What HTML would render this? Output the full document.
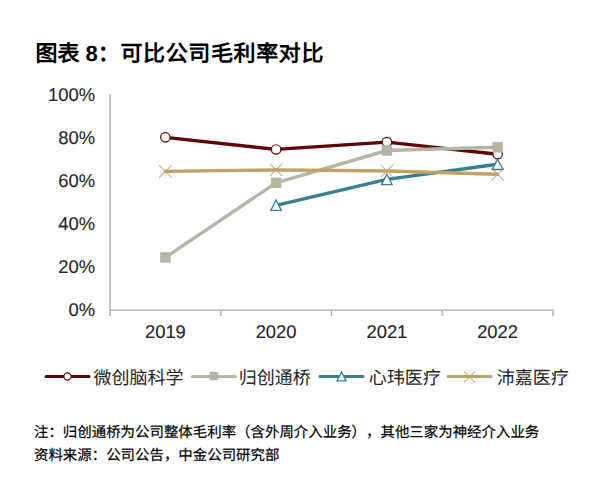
<!DOCTYPE html>
<html lang="zh-CN"><head><meta charset="utf-8"><style>
html,body{margin:0;padding:0;background:#fff;width:600px;height:479px;overflow:hidden}
svg{display:block;position:absolute;left:0;top:0}
text{font-family:"Liberation Sans",sans-serif;fill:#262626;text-spacing-trim:space-all;text-rendering:geometricPrecision;font-kerning:none}
.ax{font-size:18.4px;fill:#262626;stroke:#262626;stroke-width:0.12px}
.lg{font-size:18px;fill:#262626}
.ti{font-size:22px;font-weight:bold;fill:#000}
.nt{font-size:14.45px;fill:#000;stroke:#000;stroke-width:0.2px}
</style></head><body>
<svg width="600" height="479" viewBox="0 0 600 479">
<path d="M110,94 V316 M110,310.2 H553 V316.3" fill="none" stroke="#a6a6a6" stroke-width="1.3"/>
<path d="M220.8,310.2 V316" stroke="#a6a6a6" stroke-width="1.3"/>
<path d="M331.5,310.2 V316" stroke="#a6a6a6" stroke-width="1.3"/>
<path d="M442.2,310.2 V316" stroke="#a6a6a6" stroke-width="1.3"/>
<text x="95" y="316.0" text-anchor="end" class="ax">0%</text>
<text x="95" y="272.9" text-anchor="end" class="ax">20%</text>
<text x="95" y="229.8" text-anchor="end" class="ax">40%</text>
<text x="95" y="186.7" text-anchor="end" class="ax">60%</text>
<text x="95" y="143.6" text-anchor="end" class="ax">80%</text>
<text x="95" y="100.5" text-anchor="end" class="ax">100%</text>
<text x="165.4" y="338.3" text-anchor="middle" class="ax">2019</text>
<text x="276.1" y="338.3" text-anchor="middle" class="ax">2020</text>
<text x="386.9" y="338.3" text-anchor="middle" class="ax">2021</text>
<text x="497.6" y="338.3" text-anchor="middle" class="ax">2022</text>
<polyline points="165.4,137.4 276.1,149.4 386.9,142.1 497.6,154.2" fill="none" stroke="#600609" stroke-width="3.4" stroke-linejoin="round" stroke-linecap="round"/>
<polyline points="165.4,257.4 276.1,182.8 386.9,150.5 497.6,147.3" fill="none" stroke="#b7b6a6" stroke-width="3.4" stroke-linejoin="round" stroke-linecap="round"/>
<polyline points="276.1,205.3 386.9,179.4 497.6,164.3" fill="none" stroke="#377f93" stroke-width="3.4" stroke-linejoin="round" stroke-linecap="round"/>
<polyline points="165.4,171.4 276.1,169.9 386.9,171.0 497.6,174.2" fill="none" stroke="#c2a262" stroke-width="3.4" stroke-linejoin="round" stroke-linecap="round"/>
<circle cx="165.38" cy="137.37" r="4.7" fill="#fff" stroke="#600609" stroke-width="1.2"/>
<circle cx="276.12" cy="149.44" r="4.7" fill="#fff" stroke="#600609" stroke-width="1.2"/>
<circle cx="386.88" cy="142.11" r="4.7" fill="#fff" stroke="#600609" stroke-width="1.2"/>
<circle cx="497.62" cy="154.18" r="4.7" fill="#fff" stroke="#600609" stroke-width="1.2"/>
<rect x="160.18" y="252.20" width="10.40" height="10.40" fill="#b7b6a6"/>
<rect x="270.93" y="177.64" width="10.40" height="10.40" fill="#b7b6a6"/>
<rect x="381.68" y="145.31" width="10.40" height="10.40" fill="#b7b6a6"/>
<rect x="492.43" y="142.08" width="10.40" height="10.40" fill="#b7b6a6"/>
<path d="M159.07,165.12 L171.68,177.72 M171.68,165.12 L159.07,177.72" stroke="#c2a262" stroke-width="1.1" stroke-opacity="0.85" fill="none"/>
<path d="M269.82,163.61 L282.43,176.21 M282.43,163.61 L269.82,176.21" stroke="#c2a262" stroke-width="1.1" stroke-opacity="0.85" fill="none"/>
<path d="M380.57,164.69 L393.18,177.29 M393.18,164.69 L380.57,177.29" stroke="#c2a262" stroke-width="1.1" stroke-opacity="0.85" fill="none"/>
<path d="M491.32,167.92 L503.93,180.52 M503.93,167.92 L491.32,180.52" stroke="#c2a262" stroke-width="1.1" stroke-opacity="0.85" fill="none"/>
<path d="M276.12,200.05 L281.43,210.45 L270.82,210.45 Z" fill="#fff" stroke="#377f93" stroke-width="1.3" stroke-linejoin="miter"/>
<path d="M386.88,174.19 L392.18,184.59 L381.57,184.59 Z" fill="#fff" stroke="#377f93" stroke-width="1.3" stroke-linejoin="miter"/>
<path d="M497.62,159.11 L502.93,169.51 L492.32,169.51 Z" fill="#fff" stroke="#377f93" stroke-width="1.3" stroke-linejoin="miter"/>
<path d="M46,376.5 H89" stroke="#600609" stroke-width="3" stroke-linecap="round"/><circle cx="67.50" cy="376.50" r="3.6" fill="#fff" stroke="#600609" stroke-width="1.2"/><text x="93.5" y="383.7" class="lg">微创脑科学</text>
<path d="M192.5,376.5 H235.5" stroke="#b7b6a6" stroke-width="3" stroke-linecap="round"/><rect x="209.80" y="371.80" width="8.40" height="8.40" fill="#b7b6a6"/><text x="238.7" y="383.7" class="lg">归创通桥</text>
<path d="M320,376.5 H363" stroke="#377f93" stroke-width="3" stroke-linecap="round"/><path d="M341.50,372.10 L346.10,380.90 L336.90,380.90 Z" fill="#fff" stroke="#377f93" stroke-width="1.3" stroke-linejoin="miter"/><text x="368.8" y="383.7" class="lg">心玮医疗</text>
<path d="M448,376.5 H491" stroke="#c2a262" stroke-width="3" stroke-linecap="round"/><path d="M464.10,371.60 L474.90,382.40 M474.90,371.60 L464.10,382.40" stroke="#c2a262" stroke-width="1.1" stroke-opacity="0.85" fill="none"/><text x="496.8" y="383.7" class="lg">沛嘉医疗</text>
<text x="35.5" y="60.6" class="ti">图表 8：<tspan x="120.40 143.03 165.66 188.29 210.92 233.55 256.18 278.81 301.44">可比公司毛利率对比</tspan></text>
<text x="34" y="436.5" class="nt">注：归创通桥为公司整体毛利率（含外周介入业务），其他三家为神经介入业务</text>
<text x="34" y="459.5" class="nt">资料来源：公司公告，中金公司研究部</text>
</svg>
</body></html>
